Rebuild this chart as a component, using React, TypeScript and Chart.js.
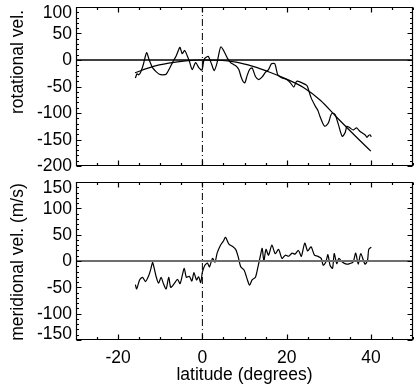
import React, { useEffect, useRef } from "react";
import { Chart, registerables } from "chart.js";

Chart.register(...registerables);

// ---- axis ranges & tick labels ----
const LAT_MIN = -30;
const LAT_MAX = 50;
const LAT_TICKS = [-20, 0, 20, 40];
const ROT_MIN = -200;
const ROT_MAX = 100;
const ROT_TICKS = [100, 50, 0, -50, -100, -150, -200];
const MER_MIN = -150;
const MER_MAX = 150;
const MER_TICKS = [150, 100, 50, 0, -50, -100, -150];

// ---- rotational velocity (noisy profile) ----
const ROT_LAT = [
  -15.9, -15.5, -15.1, -14.6, -14.0, -13.5, -13.2, -12.7, -12.2, -11.8, -11.0, -10.2, -9.4, -8.6,
  -7.8, -7.1, -6.2, -5.6, -5.3, -4.8, -4.2, -3.6, -3.1, -2.4, -1.6, -0.8, -0.1, 0.4, 0.9, 1.4,
  2.2, 2.8, 3.5, 4.0, 4.4, 5.1, 5.9, 6.7, 7.5, 8.2, 8.7, 9.2, 9.7, 10.1, 10.6, 11.2, 11.8, 12.6,
  13.4, 14.2, 15.0, 15.7, 16.4, 17.2, 17.9, 18.9, 20.1, 20.9, 21.7, 22.4, 23.6, 24.8, 25.2, 25.8,
  26.8, 27.4, 27.9, 28.5, 29.1, 29.9, 30.5, 30.9, 31.5, 32.3, 33.2, 33.9, 34.3, 35.0, 35.8, 36.6,
  37.2, 37.8, 38.6, 39.1, 39.4, 39.8, 40.1,
];
const ROT_VEL = [
  -34, -26, -28, -22, -8, 8, 14, 2, -8, -15, -22, -27, -28, -27,
  -16, -5, 8, 20, 24, 12, 18, 8, -2, -18, -5, -15, -19, 1, 5, 7,
  -8, -20, -5, 15, 25, 17, 4, -5, -9, -13, -19, -32, -41, -43, -30, -18, -15, -31,
  -37, -32, -23, -18, -7, -7, -28, -34, -37, -43, -51, -40, -43, -48, -56, -71,
  -87, -95, -106, -118, -125, -119, -104, -100, -103, -122, -144, -137, -125, -128, -132, -128,
  -133, -137, -141, -146, -143, -141, -145,
];

// ---- rotational velocity fit ----
const FIT_LAT = [-16, -12, -8, -4, 0, 4, 8, 12, 16, 20, 24, 28, 32, 36, 40];
const FIT_VEL = [-24, -13, -6, -1.5, 0, -0.5, -4, -12, -23, -36, -52, -76, -109, -141, -172];

// ---- meridional velocity ----
const MER_LAT = [
  -15.9, -15.6, -14.9, -14.2, -13.5, -12.7, -12.2, -11.8, -11.0, -10.4, -9.8, -9.3, -8.6, -8.0,
  -7.5, -6.7, -5.9, -5.3, -4.7, -4.3, -3.8, -3.1, -2.5, -2.0, -1.4, -0.9, -0.4, 0.0, 0.6, 1.2,
  1.7, 2.4, 3.0, 3.5, 4.3, 5.0, 5.5, 6.3, 7.1, 7.9, 8.5, 9.1, 9.9, 10.7, 11.2, 11.8, 12.6, 13.2,
  13.8, 14.2, 14.6, 15.1, 15.7, 16.5, 17.3, 18.1, 18.9, 19.7, 20.5, 21.3, 22.0, 22.8, 23.5, 24.3,
  25.0, 25.8, 26.6, 27.4, 28.2, 28.7, 29.3, 29.8, 30.3, 30.9, 31.3, 31.9, 32.4, 33.2, 34.2, 35.0,
  35.8, 36.4, 37.0, 37.6, 38.6, 39.2, 39.5, 40.1,
];
const MER_VEL = [
  -45, -53, -36, -31, -39, -27, -14, -3, -29, -42, -31, -42, -53, -31,
  -50, -43, -35, -43, -25, -14, -31, -29, -38, -22, -36, -30, -41, -21, -8, -4,
  -11, 5, -2, 15, 30, 38, 45, 32, 28, 22, 8, -11, -17, -36, -46, -36, -31, -11,
  11, 24, 0, 22, 11, 30, 14, 22, 5, 11, 9, 15, 13, 20, 9, 34,
  19, 27, 11, 9, 5, -8, -2, 12, -8, -14, 14, -5, 5, -2, -6, -5,
  -2, 15, -6, 14, -6, 1, 22, 26,
];

const FONT = '17.5px "Liberation Sans", Arial, Helvetica, sans-serif';

function pts(xs: number[], ys: number[]) {
  return xs.map((x, i) => ({ x, y: ys[i] }));
}

type FrameCfg = {
  yTicks: number[];
  yMajor: number;
  yMinor: number;
  yMin: number;
  yMax: number;
  clampTop: number;
  clampBottom: number;
  title: string;
  titleY: number;
  xLabels: boolean;
  xLabelY: number;
  xTitleY: number;
};

function framePlugin(cfg: FrameCfg) {
  return {
    id: "frame",
    afterDraw(chart: any) {
      const { ctx, chartArea: a, scales } = chart;
      const xs = scales.x;
      const ys = scales.y;
      ctx.save();
      ctx.strokeStyle = "#000";
      ctx.lineWidth = 1.2;
      const L = Math.round(a.left) + 0.5;
      const R = Math.round(a.right) - 0.5;
      const T = Math.round(a.top) + 0.5;
      const B = Math.round(a.bottom) - 0.5;
      ctx.beginPath();
      ctx.rect(L, T, R - L, B - T);
      // x ticks (top and bottom, pointing inward)
      for (let v = LAT_MIN; v <= LAT_MAX; v += 5) {
        const px = Math.round(xs.getPixelForValue(v)) + 0.5;
        const len = v % 20 === 0 ? 5 : 2.5;
        ctx.moveTo(px, B);
        ctx.lineTo(px, B - len);
        ctx.moveTo(px, T);
        ctx.lineTo(px, T + len);
      }
      // y ticks (left and right, pointing inward)
      for (let v = cfg.yMin; v <= cfg.yMax; v += cfg.yMinor) {
        const py = Math.round(ys.getPixelForValue(v)) + 0.5;
        const len = v % cfg.yMajor === 0 ? 5 : 2.5;
        ctx.moveTo(L, py);
        ctx.lineTo(L + len, py);
        ctx.moveTo(R, py);
        ctx.lineTo(R - len, py);
      }
      ctx.stroke();

      ctx.fillStyle = "#000";
      ctx.font = FONT;
      ctx.textAlign = "right";
      ctx.textBaseline = "middle";
      for (const t of cfg.yTicks) {
        let py = ys.getPixelForValue(t);
        py = Math.min(Math.max(py, a.top + cfg.clampTop), a.bottom + cfg.clampBottom);
        ctx.fillText(String(t), a.left - 4, py + 0.5);
      }

      if (cfg.xLabels) {
        ctx.textAlign = "center";
        for (const t of LAT_TICKS) {
          ctx.fillText(String(t), xs.getPixelForValue(t), cfg.xLabelY);
        }
        ctx.fillText("latitude (degrees)", (a.left + a.right) / 2, cfg.xTitleY);
      }

      ctx.save();
      ctx.translate(18.5, cfg.titleY);
      ctx.rotate(-Math.PI / 2);
      ctx.textAlign = "center";
      ctx.textBaseline = "middle";
      ctx.fillText(cfg.title, 0, 0);
      ctx.restore();

      ctx.restore();
    },
  };
}

function makeOptions(yMin: number, yMax: number, padding: any) {
  return {
    responsive: false,
    maintainAspectRatio: false,
    animation: false as const,
    devicePixelRatio: 1,
    layout: { padding, autoPadding: false },
    plugins: { legend: { display: false }, tooltip: { enabled: false } },
    scales: {
      x: { type: "linear" as const, min: LAT_MIN, max: LAT_MAX, display: false },
      y: { type: "linear" as const, min: yMin, max: yMax, display: false },
    },
    elements: { point: { radius: 0 } },
  };
}

function baseLine(data: any[], color: string, width: number, extra: any = {}) {
  return {
    data,
    borderColor: color,
    borderWidth: width,
    pointRadius: 0,
    fill: false,
    tension: 0,
    ...extra,
  };
}

export default function App() {
  const topRef = useRef<HTMLCanvasElement>(null);
  const botRef = useRef<HTMLCanvasElement>(null);

  useEffect(() => {
    const top = new Chart(topRef.current as HTMLCanvasElement, {
      type: "line",
      data: {
        datasets: [
          baseLine([{ x: LAT_MIN, y: 0 }, { x: LAT_MAX, y: 0 }], "#000", 1.3),
          baseLine([{ x: 0, y: ROT_MIN }, { x: 0, y: ROT_MAX }], "#000", 1, { borderDash: [7, 3, 1, 3] }),
          baseLine(pts(FIT_LAT, FIT_VEL), "#000", 1.2, { cubicInterpolationMode: "monotone" }),
          baseLine(pts(ROT_LAT, ROT_VEL), "#000", 1.2, { tension: 0.25 }),
        ],
      },
      options: makeOptions(ROT_MIN, ROT_MAX, { left: 76, right: 1, top: 7, bottom: 9 }) as any,
      plugins: [
        framePlugin({
          yTicks: ROT_TICKS,
          yMajor: 50,
          yMinor: 10,
          yMin: ROT_MIN,
          yMax: ROT_MAX,
          clampTop: 6,
          clampBottom: 2,
          title: "rotational vel.",
          titleY: 62,
          xLabels: false,
          xLabelY: 0,
          xTitleY: 0,
        }),
      ],
    });

    const bot = new Chart(botRef.current as HTMLCanvasElement, {
      type: "line",
      data: {
        datasets: [
          baseLine([{ x: LAT_MIN, y: 0 }, { x: LAT_MAX, y: 0 }], "#6e6e6e", 2),
          baseLine([{ x: 0, y: MER_MIN }, { x: 0, y: MER_MAX }], "#000", 1, { borderDash: [7, 3, 1, 3] }),
          baseLine(pts(MER_LAT, MER_VEL), "#000", 1.2, { tension: 0.25 }),
        ],
      },
      options: makeOptions(MER_MIN, MER_MAX, { left: 76, right: 1, top: 7, bottom: 47 }) as any,
      plugins: [
        framePlugin({
          yTicks: MER_TICKS,
          yMajor: 50,
          yMinor: 10,
          yMin: MER_MIN,
          yMax: MER_MAX,
          clampTop: 6,
          clampBottom: -6,
          title: "meridional vel. (m/s)",
          titleY: 87,
          xLabels: true,
          xLabelY: 183.5,
          xTitleY: 200,
        }),
      ],
    });

    return () => {
      top.destroy();
      bot.destroy();
    };
  }, []);

  return (
    <div style={{ position: "absolute", left: 0, top: 0, width: 414, height: 387, background: "#fff" }}>
      <canvas ref={topRef} width={414} height={175} style={{ position: "absolute", left: 0, top: 0, width: 414, height: 175 }} />
      <canvas ref={botRef} width={414} height={212} style={{ position: "absolute", left: 0, top: 175, width: 414, height: 212 }} />
    </div>
  );
}
